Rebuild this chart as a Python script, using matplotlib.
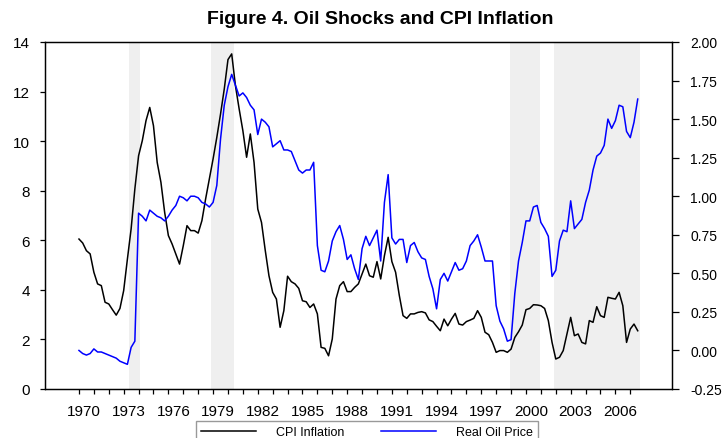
import matplotlib.pyplot as plt
import numpy as np
from matplotlib.ticker import FixedLocator, FormatStrFormatter
from matplotlib.transforms import ScaledTranslation

plt.rcParams['font.family'] = ['Liberation Sans', 'DejaVu Sans']

# Quarterly data, 1970Q1 onwards
start_year = 1970
cpi_inflation = [
    6.05, 5.89, 5.58, 5.45, 4.71, 4.24, 4.17, 3.50, 3.43, 3.20,
    2.98, 3.25, 3.97, 5.24, 6.46, 8.07, 9.41, 10.02, 10.83, 11.36,
    10.62, 9.14, 8.34, 7.13, 6.19, 5.85, 5.45, 5.04, 5.78, 6.59,
    6.39, 6.39, 6.29, 6.79, 7.67, 8.47, 9.28, 10.15, 11.09, 12.10,
    13.29, 13.52, 12.24, 11.30, 10.42, 9.35, 10.29, 9.14, 7.26, 6.72,
    5.60, 4.57, 3.90, 3.63, 2.49, 3.16, 4.55, 4.33, 4.24, 4.06,
    3.56, 3.52, 3.29, 3.43, 3.03, 1.68, 1.64, 1.34, 2.02, 3.63,
    4.17, 4.33, 3.93, 3.93, 4.10, 4.24, 4.64, 5.04, 4.57, 4.51,
    5.14, 4.44, 5.38, 6.12, 5.14, 4.71, 3.77, 2.96, 2.85, 3.03,
    3.03, 3.09, 3.12, 3.07, 2.79, 2.72, 2.53, 2.35, 2.82, 2.55,
    2.82, 3.05, 2.62, 2.58, 2.72, 2.78, 2.85, 3.16, 2.89, 2.29,
    2.19, 1.88, 1.48, 1.55, 1.55, 1.48, 1.61, 2.08, 2.31, 2.58,
    3.20, 3.25, 3.40, 3.39, 3.36, 3.25, 2.76, 1.88, 1.21, 1.28,
    1.55, 2.22, 2.89, 2.15, 2.22, 1.88, 1.82, 2.76, 2.69, 3.32,
    2.96, 2.89, 3.70, 3.66, 3.63, 3.90, 3.36, 1.88, 2.42, 2.62,
    2.35,
]
real_oil_price = [
    0.00, -0.02, -0.03, -0.02, 0.01, -0.01, -0.01, -0.02, -0.03, -0.04,
    -0.05, -0.07, -0.08, -0.09, 0.02, 0.06, 0.89, 0.87, 0.84, 0.91,
    0.89, 0.87, 0.86, 0.84, 0.87, 0.91, 0.94, 1.00, 0.99, 0.97,
    1.00, 1.00, 0.99, 0.96, 0.95, 0.93, 0.96, 1.07, 1.37, 1.59,
    1.71, 1.79, 1.72, 1.65, 1.67, 1.64, 1.59, 1.56, 1.40, 1.50,
    1.48, 1.45, 1.32, 1.34, 1.36, 1.30, 1.30, 1.29, 1.23, 1.17,
    1.15, 1.17, 1.17, 1.22, 0.68, 0.52, 0.51, 0.58, 0.71, 0.77,
    0.81, 0.72, 0.59, 0.62, 0.53, 0.46, 0.66, 0.74, 0.68, 0.73,
    0.78, 0.58, 0.96, 1.14, 0.73, 0.69, 0.72, 0.72, 0.57, 0.68,
    0.70, 0.64, 0.60, 0.59, 0.48, 0.40, 0.27, 0.46, 0.50, 0.45,
    0.51, 0.57, 0.52, 0.53, 0.58, 0.68, 0.71, 0.75, 0.67, 0.58,
    0.58, 0.58, 0.29, 0.19, 0.14, 0.06, 0.07, 0.37, 0.58, 0.70,
    0.84, 0.84, 0.93, 0.94, 0.83, 0.79, 0.74, 0.48, 0.52, 0.71,
    0.78, 0.77, 0.97, 0.79, 0.82, 0.85, 0.96, 1.04, 1.17, 1.26,
    1.28, 1.33, 1.50, 1.44, 1.49, 1.59, 1.58, 1.42, 1.38, 1.48,
    1.63,
]
# oil shock periods (shaded)
shock_start = [1973.35, 1978.86, 1998.93, 2001.88]
shock_end = [1974.10, 1980.38, 2000.94, 2007.65]
year_labels = list(range(1970, 2007, 3))

quarters = start_year + np.arange(len(cpi_inflation)) / 4

fig = plt.figure(figsize=(7.25, 4.39), dpi=100)
ax = fig.add_axes([45 / 725, 1 - 390 / 439, 627 / 725, 347 / 439])
ax2 = ax.twinx()

for s, e in zip(shock_start, shock_end):
    ax.axvspan(s, e, color='#efefef', lw=0, zorder=0)

l1, = ax.plot(quarters, cpi_inflation, color='black', lw=1.1, zorder=3)
l2, = ax2.plot(quarters, real_oil_price, color='#0000ff', lw=1.1, zorder=3)

ax.set_xlim(1967.72, 2009.8)
ax.set_ylim(0, 14)
ax.set_yticks(np.arange(0, 15, 2))
ax2.set_ylim(-0.25, 2.0)
ax2.set_yticks(np.arange(-0.25, 2.01, 0.25))
ax2.yaxis.set_major_formatter(FormatStrFormatter('%.2f'))

ax.set_xticks(year_labels)
ax.set_xticklabels([str(y) for y in year_labels])
ax.xaxis.set_minor_locator(FixedLocator(range(1970, 2008)))

for a in (ax, ax2):
    a.tick_params(which='both', direction='out', length=3.6, width=0.9,
                  labelsize=11, colors='black')
    for sp in a.spines.values():
        sp.set_linewidth(0.9)
ax.tick_params(axis='x', pad=7.4)
ax.tick_params(axis='y', pad=7.4)
ax2.tick_params(axis='y', length=5, pad=8, labelsize=10)

# labels sit slightly right of their ticks in the original
offset = ScaledTranslation(5 / 100, 0, fig.dpi_scale_trans)
for lab in ax.get_xticklabels():
    lab.set_transform(lab.get_transform() + offset)

fig.text(380 / 725, 1 - 20 / 439, 'Figure 4. Oil Shocks and CPI Inflation',
         ha='center', va='center', fontsize=14, fontweight='bold')

leg = fig.legend([l1, l2], ['CPI Inflation', 'Real Oil Price'],
                 loc='upper left', mode='expand',
                 bbox_to_anchor=(196 / 725, 0, 342 / 725, 1 - 422 / 439),
                 ncol=2, fontsize=9, handlelength=4.4, handletextpad=1.6,
                 fancybox=False, edgecolor='#808080', borderaxespad=0)
leg.get_frame().set_linewidth(1.0)

fig.savefig('out.png', dpi=100)
